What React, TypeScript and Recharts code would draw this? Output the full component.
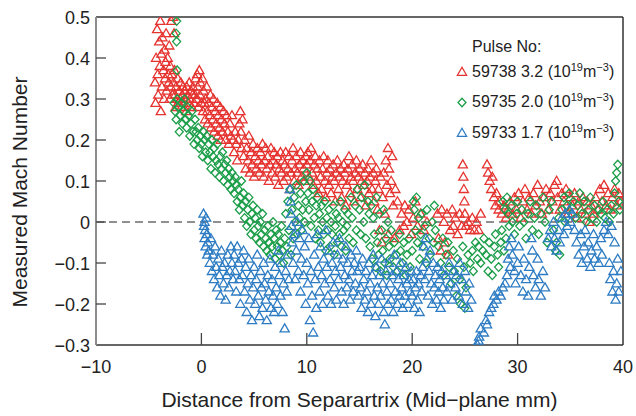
import React from 'react';
import { ScatterChart, Scatter, XAxis, YAxis, ReferenceLine, Legend } from 'recharts';

type Pt = [number, number];

const FONT = '"Liberation Sans", Arial, Helvetica, sans-serif';
const RED = '#e5332f';
const GREEN = '#1c9e49';
const BLUE = '#2d7cc3';

const xTicks = [-10, 0, 10, 20, 30, 40];
const yTicks = [-0.3, -0.2, -0.1, 0, 0.1, 0.2, 0.3, 0.4, 0.5];

const xTitle = 'Distance from Separartrix (Mid\u2212plane mm)';
const yTitle = 'Measured Mach Number';

const legendEntries = [
  { pulse: '59738', density: '3.2', color: RED, shape: 'tri' },
  { pulse: '59735', density: '2.0', color: GREEN, shape: 'dia' },
  { pulse: '59733', density: '1.7', color: BLUE, shape: 'tri' },
];

// Pulse 59738, 3.2 (10^19 m^-3)
const pulse59738: Pt[] = [
  [-4.4, 0.34], [-4.35, 0.29], [-4.3, 0.4], [-4.2, 0.47], [-4.15, 0.36], [-4.1, 0.31], [-4.0, 0.44], [-3.95, 0.38],
  [-3.9, 0.49], [-3.85, 0.27], [-3.8, 0.41], [-3.75, 0.33], [-3.7, 0.45], [-3.6, 0.37], [-3.55, 0.3], [-3.5, 0.42],
  [-3.45, 0.35], [-3.4, 0.39], [-3.35, 0.46], [-3.3, 0.32], [-3.2, 0.4], [-3.15, 0.36], [-3.1, 0.34], [-3.05, 0.43],
  [-3.0, 0.3], [-2.95, 0.38], [-2.9, 0.33], [-2.85, 0.49], [-2.8, 0.36], [-2.75, 0.31], [-2.7, 0.5], [-2.65, 0.34],
  [-2.6, 0.46], [-2.55, 0.37],
  [-2.5, 0.31], [-2.45, 0.28], [-2.4, 0.33], [-2.3, 0.3], [-2.25, 0.35], [-2.2, 0.29], [-2.1, 0.32], [-2.0, 0.3],
  [-1.95, 0.34], [-1.9, 0.28], [-1.8, 0.31], [-1.75, 0.33], [-1.7, 0.29], [-1.6, 0.32], [-1.5, 0.3], [-1.45, 0.27],
  [-1.4, 0.33], [-1.3, 0.31], [-1.2, 0.29], [-1.15, 0.34], [-1.1, 0.3], [-1.0, 0.32], [-0.9, 0.28], [-0.85, 0.31],
  [-0.8, 0.33], [-0.7, 0.29], [-0.6, 0.31], [-0.55, 0.35], [-0.5, 0.3], [-0.4, 0.36], [-0.35, 0.33], [-0.3, 0.28],
  [-0.2, 0.37], [-0.15, 0.31], [-0.1, 0.34], [0.0, 0.29],
  [0.1, 0.35], [0.15, 0.27], [0.2, 0.32], [0.3, 0.29], [0.35, 0.25], [0.4, 0.3], [0.5, 0.33], [0.55, 0.27],
  [0.6, 0.24], [0.7, 0.29], [0.8, 0.26], [0.85, 0.31], [0.9, 0.23], [1.0, 0.28], [1.1, 0.25], [1.15, 0.3],
  [1.2, 0.22], [1.3, 0.27], [1.4, 0.24], [1.5, 0.29], [1.55, 0.21], [1.6, 0.26], [1.7, 0.23], [1.8, 0.28],
  [1.85, 0.2], [1.9, 0.25], [2.0, 0.22], [2.1, 0.27], [2.2, 0.24], [2.3, 0.2], [2.4, 0.26], [2.5, 0.22],
  [2.6, 0.19], [2.7, 0.24], [2.8, 0.21], [2.9, 0.26], [3.0, 0.2],
  [3.1, 0.17], [3.2, 0.22], [3.3, 0.19], [3.4, 0.15], [3.5, 0.2], [3.6, 0.24], [3.7, 0.27], [3.75, 0.22],
  [3.8, 0.18], [3.9, 0.25], [4.0, 0.16], [4.1, 0.2], [4.2, 0.13], [4.3, 0.18], [4.4, 0.15], [4.5, 0.21],
  [4.6, 0.12], [4.7, 0.17], [4.8, 0.14], [4.9, 0.19], [5.0, 0.11], [5.1, 0.16], [5.2, 0.13], [5.3, 0.18],
  [5.4, 0.15], [5.5, 0.12], [5.6, 0.17], [5.7, 0.14], [5.8, 0.19], [5.9, 0.11], [6.0, 0.15], [6.1, 0.18],
  [6.2, 0.13], [6.3, 0.16], [6.4, 0.1], [6.5, 0.14], [6.6, 0.18], [6.7, 0.12], [6.8, 0.15], [6.9, 0.17],
  [7.0, 0.11], [7.1, 0.14], [7.2, 0.16], [7.3, 0.09], [7.4, 0.13], [7.5, 0.17], [7.6, 0.12], [7.7, 0.15],
  [7.8, 0.1], [7.9, 0.14], [8.0, 0.17], [8.1, 0.11], [8.2, 0.13], [8.3, 0.16], [8.4, 0.08], [8.5, 0.12],
  [8.6, 0.15], [8.7, 0.18], [8.8, 0.1], [8.9, 0.13], [9.0, 0.16], [9.1, 0.12], [9.2, 0.09], [9.3, 0.14],
  [9.4, 0.17], [9.5, 0.11], [9.6, 0.15], [9.7, 0.13], [9.8, 0.1], [9.9, 0.16],
  [10.0, 0.14], [10.1, 0.17], [10.2, 0.11], [10.3, 0.15], [10.4, 0.18], [10.5, 0.12], [10.6, 0.09], [10.7, 0.14],
  [10.8, 0.16], [10.9, 0.1], [11.0, 0.13], [11.1, 0.07], [11.2, 0.15], [11.3, 0.11], [11.4, 0.08], [11.5, 0.13],
  [11.6, 0.16], [11.7, 0.1], [11.8, 0.06], [11.9, 0.12], [12.0, 0.15], [12.1, 0.09], [12.2, 0.13], [12.3, 0.07],
  [12.4, 0.11], [12.5, 0.14], [12.6, 0.1], [12.7, 0.05], [12.8, 0.12], [12.9, 0.15], [13.0, 0.08], [13.1, 0.11],
  [13.2, 0.13], [13.3, 0.06], [13.4, 0.1], [13.5, 0.14], [13.6, 0.12], [13.7, 0.04], [13.8, 0.09], [13.9, 0.13],
  [14.0, 0.16], [14.1, 0.07], [14.2, 0.11], [14.3, 0.14], [14.4, 0.1], [14.5, 0.05], [14.6, 0.12], [14.7, 0.15],
  [14.8, 0.08], [14.9, 0.11], [15.0, 0.13], [15.1, 0.06], [15.2, 0.1], [15.3, 0.14], [15.4, 0.09], [15.5, 0.12],
  [15.6, 0.04], [15.7, 0.1], [15.8, 0.13], [15.9, 0.07], [16.0, 0.11], [16.1, 0.15], [16.2, 0.08], [16.3, 0.12],
  [16.4, 0.05], [16.5, 0.1], [16.6, 0.13], [16.7, 0.03], [16.8, 0.08], [16.9, -0.02], [17.0, 0.11], [17.1, -0.05],
  [17.2, 0.06], [17.3, 0.12], [17.4, 0.02], [17.5, 0.15], [17.6, 0.09], [17.7, 0.18], [17.75, -0.03], [17.8, 0.13],
  [17.9, 0.07], [18.0, 0.1], [18.1, 0.16], [18.2, 0.04], [18.3, -0.04], [18.4, 0.08],
  [18.6, 0.05], [18.8, -0.02], [19.0, 0.02], [19.2, -0.01], [19.3, 0.04], [19.5, 0.0], [19.7, 0.03], [19.9, -0.03],
  [20.1, 0.01], [20.3, 0.05], [20.5, -0.01], [20.8, 0.02], [21.1, -0.02], [21.4, 0.0], [22.4, 0.02], [22.5, -0.04],
  [22.7, -0.07], [22.8, 0.03], [23.0, 0.0], [23.1, -0.05], [23.3, 0.02], [23.4, -0.08], [23.6, -0.02], [23.8, 0.03],
  [23.9, -0.01], [24.1, 0.01], [24.3, -0.03], [24.5, 0.02], [24.7, -0.01], [24.8, 0.14], [24.85, 0.11], [24.9, 0.08],
  [24.95, 0.05], [25.0, 0.02], [25.1, -0.01], [25.3, 0.0], [25.5, -0.02], [25.7, 0.01], [25.9, -0.02], [26.1, 0.0],
  [26.3, -0.02], [26.5, 0.02],
  [27.1, 0.14], [27.2, 0.12], [27.35, 0.1], [27.5, 0.08], [27.6, 0.11], [27.75, 0.06], [27.9, 0.04], [28.0, 0.07],
  [28.2, 0.03], [28.3, 0.05], [28.5, 0.02], [28.7, 0.04], [28.9, 0.01], [29.1, 0.03],
  [29.3, 0.05], [29.5, 0.02], [29.7, 0.06], [29.9, 0.03], [30.1, 0.07], [30.3, 0.01], [30.5, 0.05], [30.7, 0.08],
  [30.9, 0.03], [31.1, 0.06], [31.3, 0.02], [31.5, 0.07], [31.7, 0.04], [31.9, 0.09], [32.1, 0.05], [32.3, 0.02],
  [32.5, 0.06], [32.7, 0.08], [32.9, 0.03], [33.1, 0.07], [33.3, 0.05], [33.5, 0.09], [33.7, 0.1], [33.8, 0.06],
  [34.0, 0.03], [34.2, 0.07], [34.4, 0.05], [34.6, 0.08], [34.8, 0.02], [35.0, 0.06], [35.2, 0.04], [35.4, 0.07],
  [35.6, 0.01], [35.8, 0.05], [36.0, 0.03], [36.2, 0.06], [36.4, 0.02], [36.6, 0.05], [36.8, 0.0], [37.0, 0.04],
  [37.2, 0.02], [37.4, 0.06], [37.6, 0.03], [37.8, 0.08], [38.0, 0.05], [38.2, 0.09], [38.4, 0.04], [38.6, 0.07],
  [38.8, 0.03], [39.0, 0.06], [39.2, 0.08], [39.4, 0.04], [39.6, 0.07], [39.8, 0.05],
];

// Pulse 59735, 2.0 (10^19 m^-3)
const pulse59735: Pt[] = [
  [-2.35, 0.49], [-2.4, 0.46], [-2.35, 0.44], [-2.3, 0.37],
  [-2.6, 0.29], [-2.5, 0.27], [-2.4, 0.25], [-2.3, 0.3], [-2.2, 0.28], [-2.1, 0.22], [-2.0, 0.26], [-1.9, 0.29],
  [-1.8, 0.24], [-1.7, 0.27], [-1.6, 0.3], [-1.5, 0.25], [-1.4, 0.23], [-1.3, 0.28], [-1.2, 0.26], [-1.1, 0.21],
  [-1.0, 0.24], [-0.9, 0.27], [-0.8, 0.22], [-0.7, 0.19], [-0.6, 0.25], [-0.5, 0.22], [-0.4, 0.2], [-0.3, 0.23],
  [-0.2, 0.18], [-0.1, 0.21],
  [0.0, 0.19], [0.1, 0.16], [0.2, 0.22], [0.3, 0.2], [0.4, 0.17], [0.5, 0.21], [0.6, 0.15], [0.7, 0.19],
  [0.8, 0.17], [0.9, 0.13], [1.0, 0.2], [1.1, 0.16], [1.2, 0.18], [1.3, 0.12], [1.4, 0.15], [1.5, 0.19],
  [1.6, 0.14], [1.7, 0.11], [1.8, 0.16], [1.9, 0.13], [2.0, 0.17], [2.1, 0.1], [2.2, 0.14], [2.3, 0.12],
  [2.4, 0.15], [2.5, 0.09], [2.6, 0.13], [2.7, 0.11], [2.8, 0.08], [2.9, 0.12], [3.0, 0.1],
  [3.1, 0.07], [3.2, 0.11], [3.3, 0.09], [3.4, 0.05], [3.5, 0.08], [3.6, 0.03], [3.7, 0.06], [3.8, 0.1],
  [3.9, 0.04], [4.0, 0.07], [4.1, 0.01], [4.2, 0.05], [4.3, -0.01], [4.4, 0.03], [4.5, 0.06], [4.6, 0.0],
  [4.7, -0.03], [4.8, 0.02], [4.9, 0.04], [5.0, -0.02], [5.1, 0.01], [5.2, -0.04], [5.3, 0.03], [5.4, -0.01],
  [5.5, -0.05], [5.6, 0.0], [5.7, -0.03], [5.8, 0.02], [5.9, -0.06], [6.0, -0.02],
  [6.1, -0.04], [6.2, -0.07], [6.3, -0.01], [6.4, -0.05], [6.5, -0.08], [6.6, -0.03], [6.7, -0.06], [6.8, 0.0],
  [6.9, -0.04], [7.0, -0.09], [7.1, -0.02], [7.2, -0.06], [7.3, -0.03], [7.4, -0.08], [7.5, -0.05], [7.6, -0.01],
  [7.7, -0.07], [7.8, -0.1], [7.9, -0.04], [8.0, 0.02], [8.1, -0.06], [8.2, 0.05], [8.3, -0.02], [8.4, 0.08],
  [8.5, -0.08], [8.6, 0.03], [8.7, -0.04], [8.8, 0.06], [8.9, 0.0], [9.0, 0.09], [9.1, -0.03], [9.2, 0.04],
  [9.3, 0.01], [9.4, 0.07], [9.5, -0.02], [9.6, 0.03], [9.7, 0.1], [9.8, 0.0], [9.9, 0.05],
  [10.0, 0.12], [10.1, 0.07], [10.2, 0.03], [10.3, 0.1], [10.4, -0.01], [10.5, 0.05], [10.6, 0.08], [10.7, 0.01],
  [10.8, -0.04], [10.9, 0.04], [11.0, 0.06], [11.1, -0.02], [11.2, 0.02], [11.3, -0.05], [11.4, 0.04], [11.5, 0.0],
  [11.6, -0.03], [11.7, 0.05], [11.8, -0.07], [11.9, 0.01], [12.0, -0.02], [12.1, 0.03], [12.2, -0.06], [12.3, 0.0],
  [12.4, -0.03], [12.5, 0.04], [12.6, -0.08], [12.7, -0.01], [12.8, 0.02], [12.9, -0.05], [13.0, 0.01], [13.1, -0.03],
  [13.2, 0.05], [13.3, -0.06], [13.4, 0.0], [13.5, -0.02], [13.6, 0.03], [13.7, -0.07], [13.8, -0.01], [13.9, 0.02],
  [14.0, -0.04], [14.2, 0.06], [14.3, 0.01], [14.4, -0.05], [14.6, 0.04], [14.7, -0.02], [14.8, 0.08], [15.0, 0.03],
  [15.1, -0.03], [15.2, 0.06], [15.4, 0.0], [15.5, 0.09], [15.6, -0.04], [15.8, 0.05], [15.9, 0.02],
  [16.0, -0.06], [16.1, 0.04], [16.2, -0.09], [16.3, 0.01], [16.4, -0.03], [16.5, -0.11], [16.6, 0.06], [16.7, -0.05],
  [16.8, -0.08], [16.9, 0.02], [17.0, -0.12], [17.1, -0.02], [17.2, -0.07], [17.3, 0.03], [17.4, -0.1], [17.5, -0.04],
  [17.6, -0.13], [17.7, 0.0], [17.8, -0.06], [17.9, -0.09], [18.0, -0.02], [18.2, -0.11], [18.3, -0.05], [18.5, -0.08],
  [18.6, -0.12], [18.8, -0.03], [18.9, -0.07], [19.1, -0.1], [19.2, -0.05], [19.4, -0.13], [19.5, -0.08], [19.7, -0.04],
  [19.8, -0.11], [20.0, -0.07],
  [20.1, 0.05], [20.2, 0.03], [20.3, -0.02], [20.4, 0.06], [20.5, -0.05], [20.6, 0.01], [20.7, -0.09], [20.8, -0.03],
  [20.9, 0.02], [21.0, -0.06], [21.2, -0.01], [21.3, -0.1], [21.4, 0.03], [21.6, -0.04], [21.7, -0.08], [21.9, 0.0],
  [22.0, -0.05], [22.1, 0.04], [22.2, -0.02],
  [22.5, -0.06], [22.7, -0.1], [22.9, -0.04], [23.0, -0.13], [23.2, -0.08], [23.4, -0.05], [23.5, -0.11], [23.7, -0.15],
  [23.9, -0.07], [24.0, -0.12], [24.2, -0.18], [24.3, -0.09], [24.5, -0.14], [24.6, -0.2], [24.8, -0.06], [24.9, -0.11],
  [25.0, -0.21], [25.1, -0.16], [25.3, -0.08],
  [25.5, -0.1], [25.7, -0.07], [25.8, -0.12], [26.0, -0.05], [26.2, -0.09], [26.3, -0.06], [26.5, -0.1], [26.7, -0.07],
  [26.8, -0.04], [27.0, -0.08], [27.2, -0.12], [27.3, -0.05], [27.5, -0.09], [27.6, -0.13], [27.8, -0.06], [27.9, -0.03],
  [28.1, -0.08], [28.2, -0.11], [28.4, -0.05], [28.5, -0.02], [28.6, 0.05], [28.7, -0.07], [28.8, 0.03], [28.9, -0.04],
  [29.0, 0.06],
  [29.1, 0.02], [29.2, -0.01], [29.4, 0.04], [29.5, 0.0], [29.7, -0.03], [29.9, 0.02], [30.0, 0.05], [30.2, -0.01],
  [30.4, 0.03], [30.6, 0.0], [30.8, -0.04], [31.0, 0.02], [31.2, 0.05], [31.4, -0.02], [31.6, 0.01], [31.8, 0.04],
  [32.0, -0.03], [32.2, 0.02], [32.4, 0.06], [32.6, 0.0], [32.8, -0.05], [33.0, 0.03], [33.2, 0.05], [33.4, -0.02],
  [33.6, -0.07], [33.7, -0.05], [33.9, 0.01],
  [34.0, -0.08], [34.2, 0.03], [34.4, 0.06], [34.5, 0.0], [34.7, 0.04], [34.9, 0.07], [35.1, 0.02], [35.3, 0.05],
  [35.5, 0.01], [35.7, 0.04], [35.9, 0.07], [36.1, 0.02], [36.3, 0.05], [36.5, 0.0], [36.7, 0.03], [36.9, 0.06],
  [37.1, 0.01], [37.3, 0.04], [37.5, 0.0], [37.7, 0.03], [37.9, 0.02], [38.1, 0.05], [38.3, 0.01], [38.5, 0.03],
  [38.7, 0.0], [38.9, 0.04], [39.1, 0.02], [39.2, 0.07], [39.3, 0.1], [39.4, 0.12], [39.5, 0.14], [39.6, 0.05],
  [39.7, 0.03],
];

// Pulse 59733, 1.7 (10^19 m^-3)
const pulse59733: Pt[] = [
  [0.2, 0.02], [0.25, -0.01], [0.3, 0.0], [0.3, -0.04], [0.35, -0.02], [0.4, -0.06], [0.45, 0.01], [0.5, -0.03],
  [0.55, -0.08], [0.6, -0.05],
  [0.7, -0.07], [0.8, -0.1], [0.9, -0.04], [1.0, -0.12], [1.1, -0.08], [1.2, -0.14], [1.3, -0.06], [1.4, -0.11],
  [1.5, -0.16], [1.6, -0.09], [1.7, -0.13], [1.8, -0.18], [1.9, -0.07], [2.0, -0.11], [2.1, -0.15], [2.2, -0.1],
  [2.3, -0.19], [2.4, -0.13], [2.5, -0.08], [2.6, -0.16], [2.7, -0.12], [2.8, -0.06], [2.9, -0.1], [3.0, -0.14],
  [3.1, -0.08], [3.2, -0.12], [3.3, -0.17], [3.4, -0.06], [3.5, -0.1], [3.6, -0.14], [3.7, -0.2], [3.8, -0.09],
  [3.9, -0.13], [4.0, -0.07], [4.1, -0.17], [4.2, -0.11], [4.3, -0.22], [4.4, -0.15], [4.5, -0.09], [4.6, -0.19],
  [4.7, -0.13], [4.8, -0.24], [4.9, -0.16], [5.0, -0.11], [5.1, -0.2], [5.2, -0.14], [5.3, -0.08], [5.4, -0.18],
  [5.5, -0.23], [5.6, -0.12], [5.7, -0.16], [5.8, -0.21], [5.9, -0.1], [6.0, -0.15], [6.1, -0.19], [6.2, -0.24],
  [6.3, -0.13], [6.4, -0.17], [6.5, -0.09], [6.6, -0.21], [6.7, -0.14], [6.8, -0.18], [6.9, -0.22], [7.0, -0.11],
  [7.1, -0.16], [7.2, -0.2], [7.3, -0.07], [7.4, -0.13], [7.5, -0.18], [7.6, -0.1], [7.7, -0.22], [7.8, -0.15],
  [7.9, -0.26], [8.0, -0.12], [8.1, -0.17], [8.2, -0.08], [8.3, -0.14],
  [8.4, 0.08], [8.45, 0.05], [8.5, 0.02], [8.55, -0.01], [8.6, -0.05], [8.7, -0.1], [8.8, -0.03], [8.9, -0.14],
  [9.0, -0.07], [9.1, 0.0], [9.2, -0.12], [9.3, -0.04], [9.4, -0.17], [9.5, -0.09], [9.6, -0.02], [9.7, -0.13],
  [9.8, -0.06], [9.9, -0.2],
  [10.0, -0.1], [10.1, -0.15], [10.2, -0.04], [10.3, -0.24], [10.4, -0.12], [10.5, -0.18], [10.6, -0.27], [10.7, -0.08],
  [10.8, -0.14], [10.9, -0.21], [11.0, -0.03], [11.1, -0.11], [11.2, -0.17], [11.3, -0.06], [11.4, -0.13], [11.5, -0.2],
  [11.6, -0.09], [11.7, -0.15], [11.8, -0.02], [11.9, -0.11], [12.0, -0.18], [12.1, -0.07], [12.2, -0.14], [12.3, -0.2],
  [12.4, -0.1], [12.5, -0.05], [12.6, -0.16], [12.7, -0.12], [12.8, -0.19], [12.9, -0.08], [13.0, -0.14], [13.1, -0.04],
  [13.2, -0.11], [13.3, -0.17], [13.4, -0.09], [13.5, -0.2], [13.6, -0.13], [13.7, -0.06], [13.8, -0.16], [13.9, -0.1],
  [14.0, -0.14], [14.1, -0.19], [14.2, -0.08], [14.3, -0.12], [14.4, -0.17], [14.5, -0.1], [14.6, -0.15], [14.7, -0.07],
  [14.8, -0.12], [14.9, -0.18],
  [15.0, -0.11], [15.1, -0.16], [15.2, -0.21], [15.3, -0.09], [15.4, -0.14], [15.5, -0.19], [15.6, -0.12], [15.7, -0.17],
  [15.8, -0.22], [15.9, -0.1], [16.0, -0.15], [16.1, -0.2], [16.2, -0.13], [16.3, -0.08], [16.4, -0.18], [16.5, -0.23],
  [16.6, -0.11], [16.7, -0.16], [16.8, -0.2], [16.9, -0.13], [17.0, -0.18], [17.1, -0.09], [17.2, -0.15], [17.3, -0.22],
  [17.4, -0.25], [17.5, -0.12], [17.6, -0.17], [17.7, -0.2], [17.8, -0.1], [17.9, -0.15], [18.0, -0.19], [18.1, -0.13],
  [18.2, -0.22], [18.3, -0.08], [18.4, -0.17], [18.5, -0.12], [18.6, -0.2], [18.7, -0.14], [18.8, -0.18], [18.9, -0.1],
  [19.0, -0.16], [19.1, -0.21], [19.2, -0.13], [19.3, -0.18], [19.4, -0.11], [19.5, -0.15], [19.6, -0.2], [19.7, -0.14],
  [19.8, -0.17], [19.9, -0.12],
  [20.0, -0.18], [20.1, -0.14], [20.2, -0.21], [20.3, -0.16], [20.4, -0.12], [20.5, -0.19], [20.6, -0.15], [20.7, -0.22],
  [20.8, -0.13], [20.9, -0.17], [21.0, -0.11], [21.1, -0.06], [21.2, -0.14], [21.3, -0.04], [21.4, -0.09], [21.5, -0.18],
  [21.6, -0.12], [21.7, -0.07], [21.8, -0.15], [21.9, -0.2], [22.0, -0.1], [22.1, -0.16], [22.2, -0.13], [22.3, -0.19],
  [22.4, -0.11], [22.5, -0.17], [22.6, -0.14], [22.7, -0.21], [22.8, -0.12], [22.9, -0.16], [23.0, -0.19], [23.2, -0.13],
  [23.3, -0.17], [23.5, -0.1], [23.6, -0.15], [23.8, -0.19], [23.9, -0.12], [24.1, -0.16], [24.2, -0.13], [24.4, -0.18],
  [24.5, -0.1], [24.7, -0.14], [24.8, -0.2], [25.0, -0.12], [25.1, -0.17], [25.3, -0.21], [25.4, -0.15], [25.6, -0.19],
  [26.2, -0.3], [26.3, -0.29], [26.35, -0.28], [26.5, -0.26], [26.8, -0.27], [27.0, -0.24], [27.1, -0.25], [27.3, -0.22],
  [27.5, -0.21], [27.7, -0.2], [27.8, -0.18], [28.0, -0.19], [28.2, -0.17], [28.4, -0.18], [28.6, -0.16], [28.8, -0.15],
  [29.0, -0.13], [29.1, -0.09], [29.2, -0.06], [29.3, -0.11], [29.4, -0.04], [29.5, -0.08], [29.7, -0.12], [29.8, -0.15],
  [30.0, -0.1], [30.1, -0.06], [30.3, -0.13], [30.5, -0.17], [30.6, -0.09], [30.8, -0.14], [31.0, -0.18], [31.1, -0.11],
  [31.3, -0.04], [31.4, -0.07], [31.5, -0.13], [31.7, -0.16], [31.9, -0.09], [32.0, -0.14], [32.2, -0.18], [32.4, -0.12],
  [32.6, -0.16],
  [32.9, -0.04], [33.1, -0.02], [33.2, -0.06], [33.4, 0.0], [33.5, -0.04], [33.7, -0.07], [33.9, -0.02], [34.0, -0.05],
  [34.2, 0.01], [34.4, -0.03], [34.5, 0.02], [34.7, -0.01], [34.9, 0.03], [35.0, 0.0], [35.2, 0.02], [35.4, -0.02],
  [35.6, -0.05],
  [35.8, -0.08], [36.0, -0.03], [36.1, -0.1], [36.3, -0.06], [36.4, -0.02], [36.6, -0.09], [36.7, -0.05], [36.9, -0.11],
  [37.0, -0.07], [37.2, -0.03], [37.3, -0.09], [37.5, -0.06], [37.7, -0.1], [37.9, -0.04], [38.0, -0.08], [38.2, -0.02],
  [38.4, 0.0], [38.6, -0.03], [38.7, -0.1], [38.8, -0.14], [38.9, -0.01], [39.0, -0.17], [39.1, -0.12], [39.2, -0.05],
  [39.3, -0.19], [39.4, -0.15], [39.5, -0.09], [39.6, -0.17], [39.8, -0.12],
];

const toData = (pts: Pt[]) => pts.map(([x, y]) => ({ x, y }));

const fmt = (v: number) => (v < 0 ? '\u2212' + String(Math.abs(v)) : String(v));

const TriangleMark = ({ cx, cy, color }: { cx: number; cy: number; color: string }) => (
  <polygon
    points={`${cx},${cy - 4.7} ${cx - 4.6},${cy + 3.3} ${cx + 4.6},${cy + 3.3}`}
    fill="none"
    stroke={color}
    strokeWidth={1.3}
    strokeLinejoin="miter"
  />
);

const DiamondMark = ({ cx, cy, color }: { cx: number; cy: number; color: string }) => (
  <polygon
    points={`${cx},${cy - 4.3} ${cx + 4},${cy} ${cx},${cy + 4.3} ${cx - 4},${cy}`}
    fill="none"
    stroke={color}
    strokeWidth={1.3}
  />
);

const XTick = (props: any) => {
  const { x, y, payload } = props;
  const v = payload.value as number;
  const inner = v > xTicks[0] && v < xTicks[xTicks.length - 1];
  return (
    <g>
      {inner && <line x1={x} x2={x} y1={y} y2={y - 12} stroke="#444" strokeWidth={1.3} />}
      <text x={x} y={y + 28} textAnchor="middle" fontSize={18} fill="#222" fontFamily={FONT}>
        {fmt(v)}
      </text>
    </g>
  );
};

const YTick = (props: any) => {
  const { x, y, payload } = props;
  const v = payload.value as number;
  const inner = v > yTicks[0] && v < yTicks[yTicks.length - 1];
  return (
    <g>
      {inner && <line x1={x + 6} x2={x + 16} y1={y} y2={y} stroke="#444" strokeWidth={1.3} />}
      <text x={x} y={y + 7} textAnchor="end" fontSize={18} fill="#222" fontFamily={FONT}>
        {fmt(v)}
      </text>
    </g>
  );
};

const LegendBox = () => (
  <svg width={180} height={120} style={{ display: 'block', overflow: 'visible' }}>
    <text x={22} y={22} fontSize={16} fill="#222" fontFamily={FONT}>
      Pulse No:
    </text>
    {legendEntries.map((e, i) => {
      const my = 42 + i * 30.5;
      return (
        <g key={e.pulse}>
          {e.shape === 'tri' ? (
            <TriangleMark cx={12} cy={my} color={e.color} />
          ) : (
            <DiamondMark cx={12} cy={my} color={e.color} />
          )}
          <text x={22} y={my + 4.5} fontSize={16} fill="#222" fontFamily={FONT}>
            {`${e.pulse} ${e.density} (10`}
            <tspan dy={-6} fontSize={11}>19</tspan>
            <tspan dy={6}>m</tspan>
            <tspan dy={-6} fontSize={11}>{'\u22123'}</tspan>
            <tspan dy={6}>)</tspan>
          </text>
        </g>
      );
    })}
  </svg>
);

export default function App() {
  return (
    <div style={{ position: 'absolute', left: 0, top: 0, width: 636, height: 416, background: '#fff' }}>
      <ScatterChart width={636} height={416} margin={{ top: 17, right: 13, bottom: 41, left: 36 }}>
        <XAxis
          type="number"
          dataKey="x"
          domain={[-10, 40]}
          ticks={xTicks}
          allowDataOverflow
          height={30}
          tickSize={0}
          tickMargin={0}
          tick={XTick}
          axisLine={{ stroke: '#333', strokeWidth: 1.5 }}
          label={{
            value: xTitle,
            position: 'bottom',
            offset: 17,
            style: { fontSize: 21, fill: '#222', fontFamily: FONT },
          }}
        />
        <YAxis
          type="number"
          dataKey="y"
          domain={[-0.3, 0.5]}
          ticks={yTicks}
          allowDataOverflow
          width={60}
          tickSize={0}
          tickMargin={6}
          tick={YTick}
          axisLine={{ stroke: '#8c8c8c', strokeWidth: 2 }}
          label={{
            value: yTitle,
            angle: -90,
            position: 'left',
            offset: 16,
            dy: 11,
            style: { fontSize: 21, fill: '#222', fontFamily: FONT, textAnchor: 'middle' },
          }}
        />
        <ReferenceLine y={0.5} stroke="#333" strokeWidth={1.5} />
        <ReferenceLine x={40} stroke="#333" strokeWidth={1.5} />
        <ReferenceLine y={0} stroke="#222" strokeWidth={1.2} strokeDasharray="8 5" />
        <Scatter
          name="59738"
          data={toData(pulse59738)}
          isAnimationActive={false}
          shape={(p: any) => <TriangleMark cx={p.cx} cy={p.cy} color={RED} />}
        />
        <Scatter
          name="59735"
          data={toData(pulse59735)}
          isAnimationActive={false}
          shape={(p: any) => <DiamondMark cx={p.cx} cy={p.cy} color={GREEN} />}
        />
        <Scatter
          name="59733"
          data={toData(pulse59733)}
          isAnimationActive={false}
          shape={(p: any) => <TriangleMark cx={p.cx} cy={p.cy} color={BLUE} />}
        />
        <Legend
          layout="vertical"
          align="center"
          verticalAlign="middle"
          wrapperStyle={{ left: 450, top: 30, width: 180, height: 120 }}
          content={() => <LegendBox />}
        />
      </ScatterChart>
    </div>
  );
}
